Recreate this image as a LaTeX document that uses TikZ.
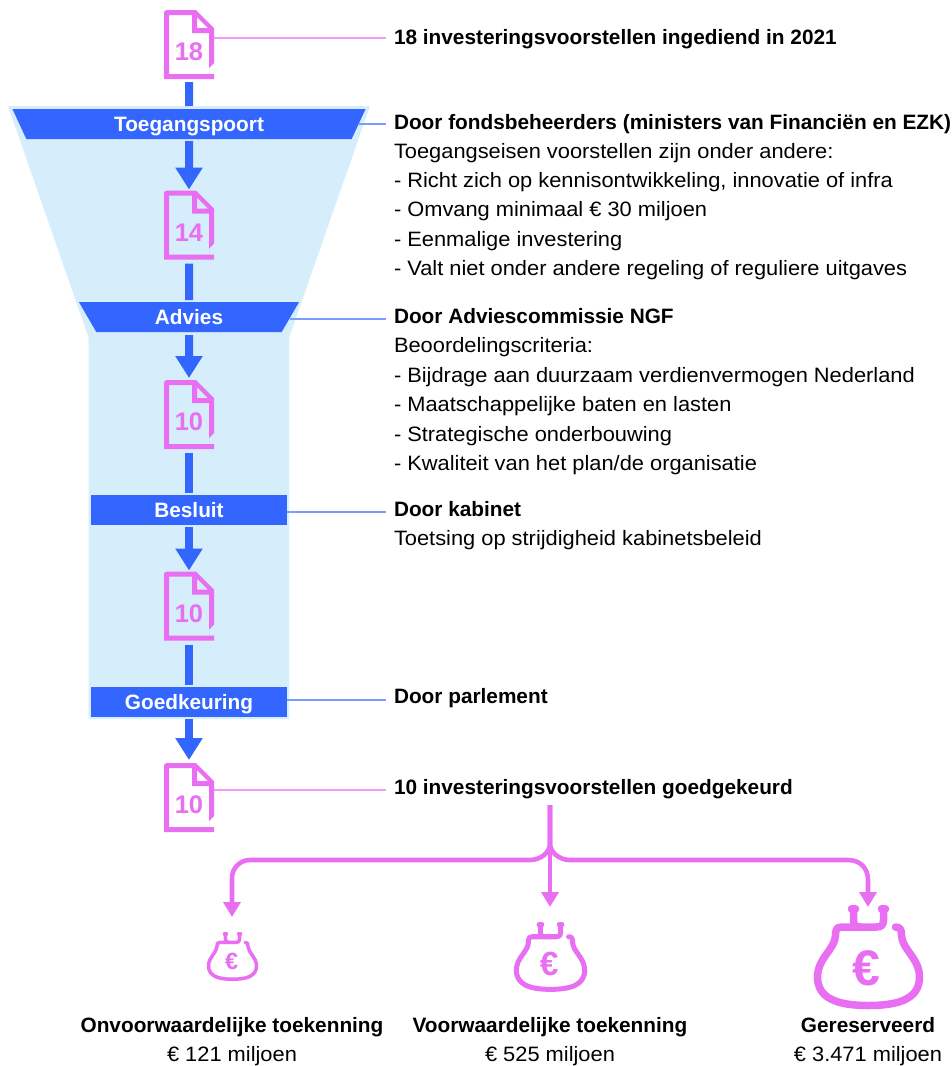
\documentclass[tikz,border=0pt]{standalone}
\usepackage{fontspec}
\setmainfont[FakeStretch=1.05,BoldFeatures={FakeStretch=1.0}]{Liberation Sans}
\usetikzlibrary{arrows.meta,shapes.geometric,calc}
\definecolor{ngfblue}{HTML}{3366FF}
\definecolor{ngfpink}{HTML}{E96FF2}
\definecolor{ngflight}{HTML}{D6EEFB}
\definecolor{leadpink}{HTML}{F49BF7}
\definecolor{leadblue}{HTML}{7B9CFF}
\tikzset{
  every node/.style={inner sep=0pt,outer sep=0pt},
  txt/.style={anchor=base west,font=\fontsize{20.8}{23}\selectfont,text=black},
  txtb/.style={txt,font=\fontsize{20.8}{23}\selectfont\bfseries},
  ctr/.style={txt,anchor=base},
  ctrb/.style={txtb,anchor=base},
  stagerect/.style={rectangle,fill=ngfblue,text=white,minimum width=196pt,minimum height=30pt,text height=15pt,text depth=1pt,font=\fontsize{20.8}{23}\selectfont\bfseries},
  stagetrap/.style={trapezium,shape border rotate=180,trapezium stretches=true,trapezium angle=68.2,fill=ngfblue,text=white,minimum height=30pt,text height=15pt,text depth=1pt,font=\fontsize{20.8}{23}\selectfont\bfseries},
  docbox/.style={rectangle,minimum width=50pt,minimum height=69pt},
  docnum/.style={text=ngfpink,font=\fontsize{25.5}{27}\selectfont\bfseries},
  flow/.style={ngfblue,line width=8pt},
  flowarrow/.style={flow,-{Triangle[length=22pt,width=26pt]}},
  leadp/.style={leadpink,line width=1.5pt},
  leadb/.style={leadblue,line width=1.5pt},
  branch/.style={ngfpink,line width=4.6pt,-{Triangle[length=15pt,width=17pt]}},
}
\newcommand{\docicon}[3]{%
  \node[docbox] (#1) at (189,#2) {};
  \fill[ngfpink,even odd rule,shift={(#1.north west)}]
    (0,3) .. controls (0,1) and (1,0) .. (3,0) -- (32,0) -- (50,18) -- (50,53) -- (45,58) -- (45,64) -- (50,64) -- (50,69) -- (0,69) -- cycle
    (5,5) -- (28,5) -- (28,23) -- (45,23) -- (45,64) -- (5,64) -- cycle
    (33,7) -- (33,18) -- (44,18) -- cycle;
  \node[docnum] (#1n) at ([yshift=-7.5pt]#1.center) {#3};
}
\newcommand{\bagicon}[6]{% name, cx, top, scale, font size, width
  \node[rectangle,minimum width=#6pt,minimum height={104pt*#4},anchor=north] (#1) at (#2,#3) {};
  \begin{scope}[shift={(#1.north)},scale=#4,ngfpink,line width={7.5pt*#4},line cap=round,line join=round]
    \draw (27,22) .. controls (32,22) and (33,25) .. (33,30)
      .. controls (33,44) and (51,53) .. (51,72)
      .. controls (51,94) and (30,100.5) .. (0,100.5)
      .. controls (-30,100.5) and (-51,94) .. (-51,72)
      .. controls (-51,53) and (-33,44) .. (-33,30)
      .. controls (-33,25) and (-32,22) .. (-27,22)
      -- (8,22) .. controls (13,22) and (15,20) .. (15,15) -- (15,4);
    \draw (-15,4) -- (-15,15) .. controls (-15,20) and (-13,22) .. (-8,22);
    \draw (-17,3.8) -- (-13,3.8);
    \draw (13,3.8) -- (17,3.8);
    \node[text=ngfpink,font=\fontsize{#5}{#5}\selectfont\bfseries] (#1e) at (-2,63) {€};
  \end{scope}
}
\begin{document}
\begin{tikzpicture}[x=1pt,y=-1pt]
\useasboundingbox (0,0) rectangle (952,1066);
% funnel
\fill[ngflight] (8,106) -- (370,106) -- (289,338) -- (289,719) -- (88.7,719) -- (88.7,338) -- cycle;
% stages
\node[stagetrap,minimum width=354pt] (toeg) at (189,124) {Toegangspoort};
\node[stagetrap,minimum width=221pt] (advies) at (189,317) {Advies};
\node[stagerect] (besluit) at (189,510) {Besluit};
\node[stagerect] (goed) at (189,702) {Goedkeuring};
% documents
\docicon{doca}{44.5}{18}
\docicon{docb}{225}{14}
\docicon{docc}{414.5}{10}
\docicon{docd}{606}{10}
\docicon{doce}{797.5}{10}
% flow
\draw[flow,shorten <=3pt,shorten >=3pt] (doca.south) -- (toeg.north);
\draw[flowarrow,shorten <=2pt,shorten >=1pt] (toeg.south) -- (docb.north);
\draw[flow,shorten <=4pt,shorten >=2pt] (docb.south) -- (advies.north);
\draw[flowarrow,shorten <=3pt,shorten >=2pt] (advies.south) -- (docc.north);
\draw[flow,shorten <=4pt,shorten >=2pt] (docc.south) -- (besluit.north);
\draw[flowarrow,shorten <=2pt,shorten >=1pt] (besluit.south) -- (docd.north);
\draw[flow,shorten <=4pt,shorten >=2pt] (docd.south) -- (goed.north);
\draw[flowarrow,shorten <=2pt,shorten >=3pt] (goed.south) -- (doce.north);
% texts
\node[txtb] (t1) at (394,44) {18 investeringsvoorstellen ingediend in 2021};
\node[txtb] (t2) at (394,129) {Door fondsbeheerders (ministers van Financiën en EZK)};
\node[txt] (t3) at (394,158) {Toegangseisen voorstellen zijn onder andere:};
\node[txt] (t4) at (394,187) {- Richt zich op kennisontwikkeling, innovatie of infra};
\node[txt] (t5) at (394,216) {- Omvang minimaal € 30 miljoen};
\node[txt] (t6) at (394,246) {- Eenmalige investering};
\node[txt] (t7) at (394,275) {- Valt niet onder andere regeling of reguliere uitgaves};
\node[txtb] (t8) at (394,323) {Door Adviescommissie NGF};
\node[txt] (t9) at (394,352) {Beoordelingscriteria:};
\node[txt] (t10) at (394,382) {- Bijdrage aan duurzaam verdienvermogen Nederland};
\node[txt] (t11) at (394,411) {- Maatschappelijke baten en lasten};
\node[txt] (t12) at (394,441) {- Strategische onderbouwing};
\node[txt] (t13) at (394,470) {- Kwaliteit van het plan/de organisatie};
\node[txtb] (t14) at (394,516) {Door kabinet};
\node[txt] (t15) at (394,545) {Toetsing op strijdigheid kabinetsbeleid};
\node[txtb] (t16) at (394,703) {Door parlement};
\node[txtb] (t17) at (394,794) {10 investeringsvoorstellen goedgekeurd};
% leaders
\coordinate (la) at (386,38);
\coordinate (lb) at (386,124);
\coordinate (lc) at (386,319);
\coordinate (ld) at (386,512);
\coordinate (le) at (386,700);
\coordinate (lf) at (386,790);
\draw[leadp] (doca.east |- la) -- (la);
\draw[leadb] (toeg.east |- lb) -- (lb);
\draw[leadb] (advies.east |- lc) -- (lc);
\draw[leadb] (besluit.east |- ld) -- (ld);
\draw[leadb] (goed.east |- le) -- (le);
\draw[leadp] (doce.east |- lf) -- (lf);
% bags
\bagicon{baga}{232.5}{932}{0.47}{23.5}{51}
\bagicon{bagb}{550.5}{922}{0.67}{33.5}{73}
\bagicon{bagc}{868.5}{905}{1}{50}{109}
% branches
\coordinate (split) at (550,805);
\draw[branch,shorten >=15pt] (split) -- (split |- bagb.north) ;
\draw[branch,shorten >=15pt] (split) -- (550,843) .. controls (550,853) and (540,860) .. (530,860) -- (250,860) .. controls (240,860) and (232,868) .. (232,878) -- (232,932);
\draw[branch,shorten >=-2pt] (split) -- (550,843) .. controls (550,853) and (560,860) .. (570,860) -- (848,860) .. controls (860,860) and (868,868) .. (868,880) -- (868,905);
% bottom labels
\node[ctrb] (c1) at (232,1032) {Onvoorwaardelijke toekenning};
\node[ctr] (c2) at (232,1061) {€ 121 miljoen};
\node[ctrb] (c3) at (550,1032) {Voorwaardelijke toekenning};
\node[ctr] (c4) at (550,1061) {€ 525 miljoen};
\node[ctrb] (c5) at (868,1032) {Gereserveerd};
\node[ctr] (c6) at (868,1061) {€ 3.471 miljoen};
\end{tikzpicture}
\end{document}
